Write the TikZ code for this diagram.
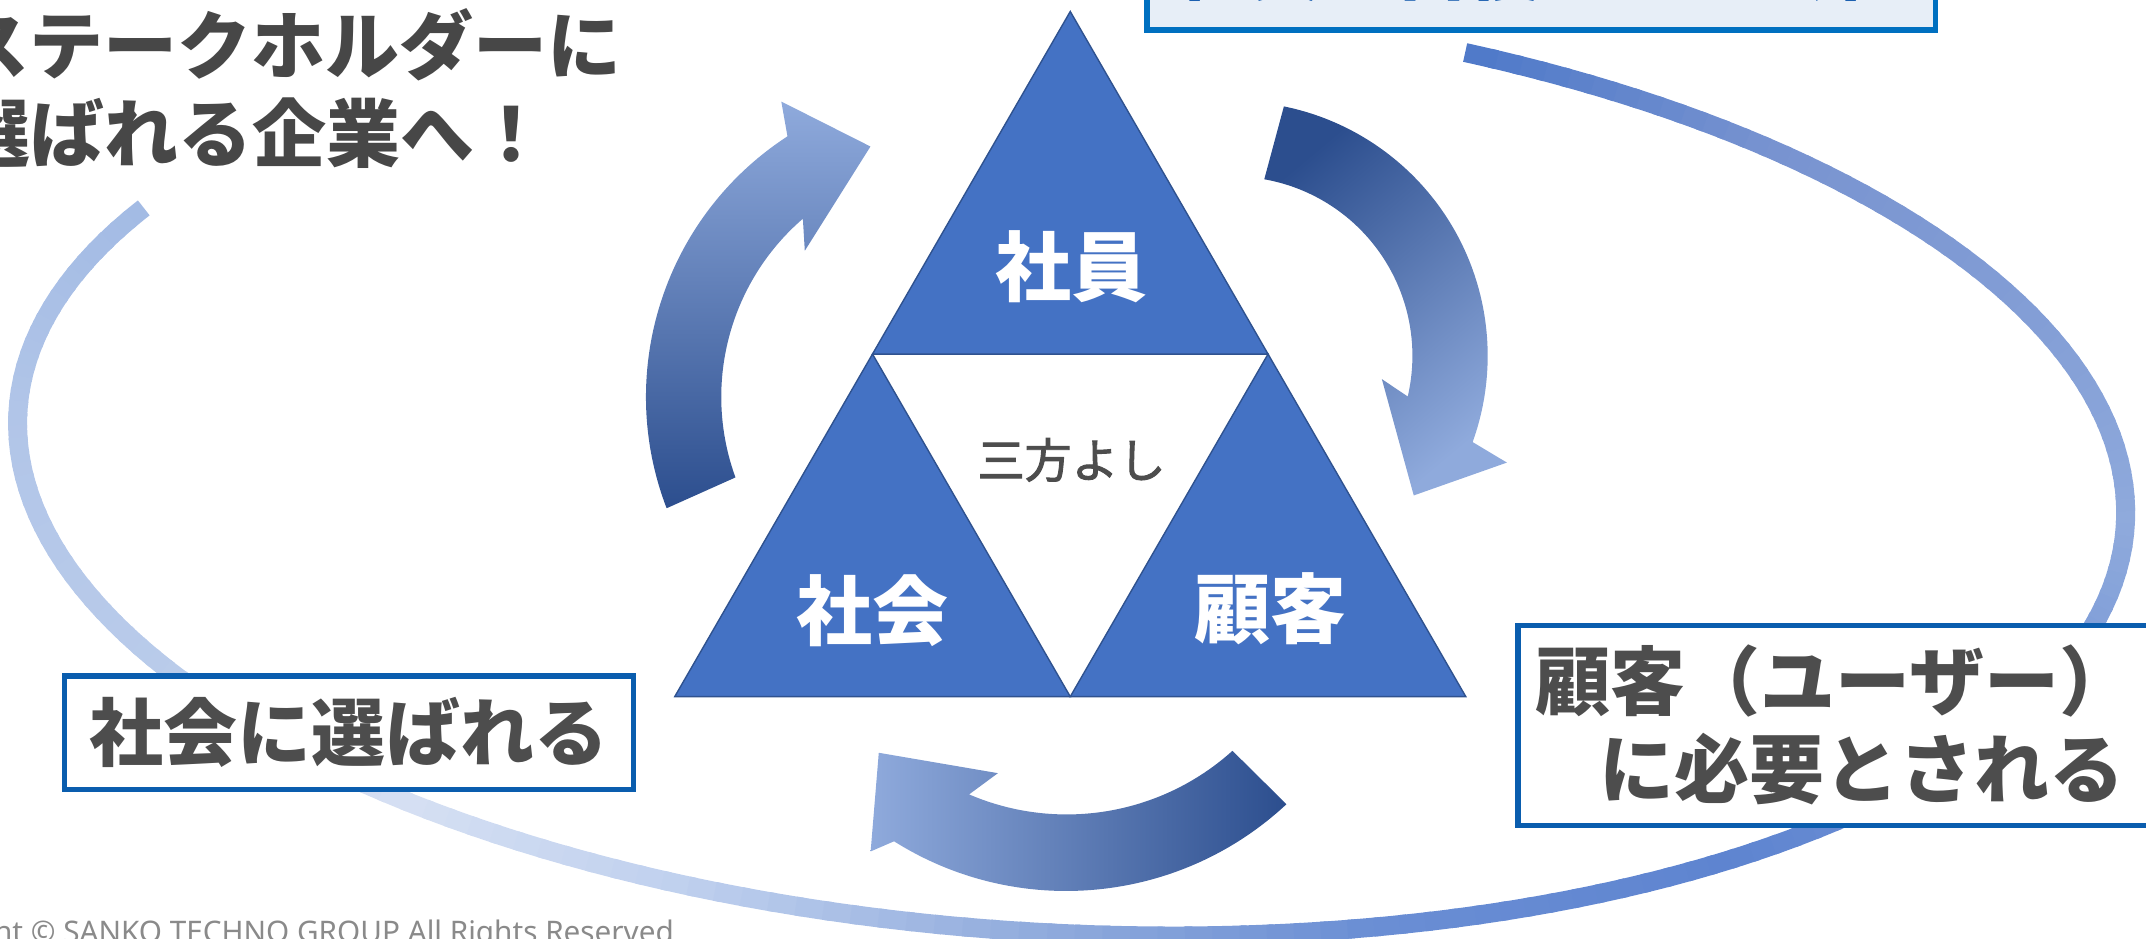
\documentclass[tikz,border=0pt]{standalone}
\usepackage{fontspec}
\newfontfamily\jp{Noto Sans CJK JP}
\newfontfamily\jpm{Noto Sans CJK JP}[FakeBold=2]
\newfontfamily\enf{Noto Sans}
\definecolor{triblue}{HTML}{4472C4}
\definecolor{triedge}{HTML}{2F528F}
\definecolor{arrdark}{HTML}{2C4E8E}
\definecolor{arrmid}{HTML}{4472C4}
\definecolor{arrlight}{HTML}{8FAADC}
\definecolor{txtgray}{HTML}{4D4D4D}
\definecolor{titlegray}{HTML}{474747}
\definecolor{boxblue}{HTML}{0A5DAE}
\definecolor{topborder}{HTML}{0070C0}
\definecolor{topfill}{HTML}{E7EEF7}
\definecolor{toptext}{HTML}{1B5FB0}
\definecolor{copygray}{HTML}{8A8A8A}
\definecolor{bA}{HTML}{A3BBE4}
\definecolor{bB}{HTML}{B1C5E8}
\definecolor{bC}{HTML}{B9CBEA}
\definecolor{bD}{HTML}{D6E0F3}
\definecolor{bE}{HTML}{BFD0EE}
\definecolor{bF}{HTML}{8FAADC}
\definecolor{bG}{HTML}{6A8ED4}
\definecolor{bH}{HTML}{5E84D0}
\definecolor{bI}{HTML}{8FAADC}
\definecolor{bJ}{HTML}{7893D0}
\definecolor{bK}{HTML}{4E79C9}
\begin{document}
\begin{tikzpicture}[x=1.3686pt, y=-1.3686pt,
  tri/.style={fill=triblue, draw=triedge, line width=1.4pt, line join=miter},
  trilabel/.style={inner sep=0pt, text=white, font=\jp\bfseries\fontsize{76}{80}\selectfont},
  midlabel/.style={inner sep=0pt, text=txtgray, font=\jpm\fontsize{47}{50}\selectfont},
  titletext/.style={inner sep=0pt, text=titlegray, font=\jp\bfseries\fontsize{74}{80}\selectfont},
  sidebox/.style={draw=boxblue, fill=white, line width=5.5pt, text=txtgray, font=\jp\bfseries\fontsize{74}{88}\selectfont, inner sep=0pt},
  topbox/.style={draw=topborder, fill=topfill, line width=5.5pt, text=toptext, font=\jp\bfseries\fontsize{73}{80}\selectfont, inner xsep=30pt, inner ysep=36pt, text depth=0pt},
  ringband/.style={line width=19pt}
]
\useasboundingbox (0,0) rectangle (1568,686);

% large elliptical band
\begin{scope}[shift={(783,342)}, rotate=-3]
\foreach \ta/\tb/\ca/\cb in {207/180/bA/bB, 180/148/bB/bC, 148/128/bC/bD, 128/110/bD/bE, 110/90/bE/bF, 90/72/bF/bG, 72/50/bG/bH, 50/0/bH/bI, 0/-50/bI/bJ, -50/-69/bJ/bK}{
  \pgfmathtruncatemacro\n{max(2,round((\ta-\tb)/1.5))}
  \foreach \i in {1,...,\n}{
    \pgfmathsetmacro\s{\ta-(\i-1)*(\ta-\tb)/\n}
    \pgfmathsetmacro\e{\ta-\i*(\ta-\tb)/\n-0.4}
    \pgfmathtruncatemacro\p{round(100-100*(\i-0.5)/\n)}
    \draw[ringband, color=\ca!\p!\cb] ({771*cos(\s)},{340*sin(\s)}) arc[start angle=\s, end angle=\e, x radius=771, y radius=340];
  }
}
\end{scope}

% left curved arrow (up)
\begin{scope}[shift={(699,290)}]
\shade[top color=arrlight, middle color=arrmid, bottom color=arrdark]
  (159:227) arc[start angle=159, end angle=237, radius=227]
  -- (239.3:251) -- (251:193.5) -- (223.9:154) -- (229.2:172)
  arc[start angle=229.2, end angle=160, radius=172] -- cycle;
\end{scope}

% right curved arrow (down)
\begin{scope}[shift={(901,260)}]
\shade[top color=arrdark, middle color=arrmid, bottom color=arrlight, shading angle=40]
  (281.5:186) arc[start angle=281.5, end angle=379.8, radius=186]
  -- (381.3:214.7) -- (397.7:166.8) -- (368.9:110) -- (373.1:131)
  arc[start angle=373.1, end angle=280, radius=131] -- cycle;
\end{scope}

% bottom curved arrow (left)
\begin{scope}[shift={(779,415)}]
\shade[left color=arrlight, middle color=arrmid, right color=arrdark]
  (47:236) arc[start angle=47, end angle=122.2, radius=236]
  -- (124.6:251.6) -- (135.4:192.3) -- (108.4:158) -- (113.2:180)
  arc[start angle=113.2, end angle=48, radius=181] -- cycle;
\end{scope}

% triangles
\coordinate (A) at (782,8.4);
\coordinate (ML) at (637.5,258.7);
\coordinate (MR) at (926.5,258.7);
\coordinate (BL) at (493,509);
\coordinate (BM) at (782,509);
\coordinate (BR) at (1071,509);
\filldraw[tri] (A) -- (ML) -- (MR) -- cycle;
\filldraw[tri] (ML) -- (BL) -- (BM) -- cycle;
\filldraw[tri] (MR) -- (BM) -- (BR) -- cycle;

\node[trilabel] (emp) at (783,195) {社員};
\node[trilabel] (soc) at (637.5,446) {社会};
\node[trilabel] (cus) at (928,445) {顧客};
\node[midlabel] (sanpo) at (783,336) {三方よし};

% title
\node[titletext, anchor=west] (t1) at (-33,33) {ステークホルダーに};
\node[titletext, anchor=west] (t2) at (-32,97) {選ばれる企業へ！};

% boxes
\node[topbox, anchor=base west] (empbox) at (836,-4.3) {社員が自慢できる会社};
\node[sidebox, minimum width=569pt, minimum height=113.6pt] (socbox) at (255,535.5) {社会に選ばれる};
\node[sidebox, anchor=west, align=left, inner xsep=17.8pt, minimum height=199.8pt, text width=720pt, font=\jp\bfseries\fontsize{75}{88}\selectfont] (cusbox) at (1107,530) {顧客（ユーザー）\\\hspace*{64pt}に必要とされる};

% copyright
\node[anchor=base east, inner sep=0pt, text=copygray, font=\enf\fontsize{29.7}{33}\selectfont] (copy) at (492.5,689) {Copyright © SANKO TECHNO GROUP All Rights Reserved};
\end{tikzpicture}
\end{document}
